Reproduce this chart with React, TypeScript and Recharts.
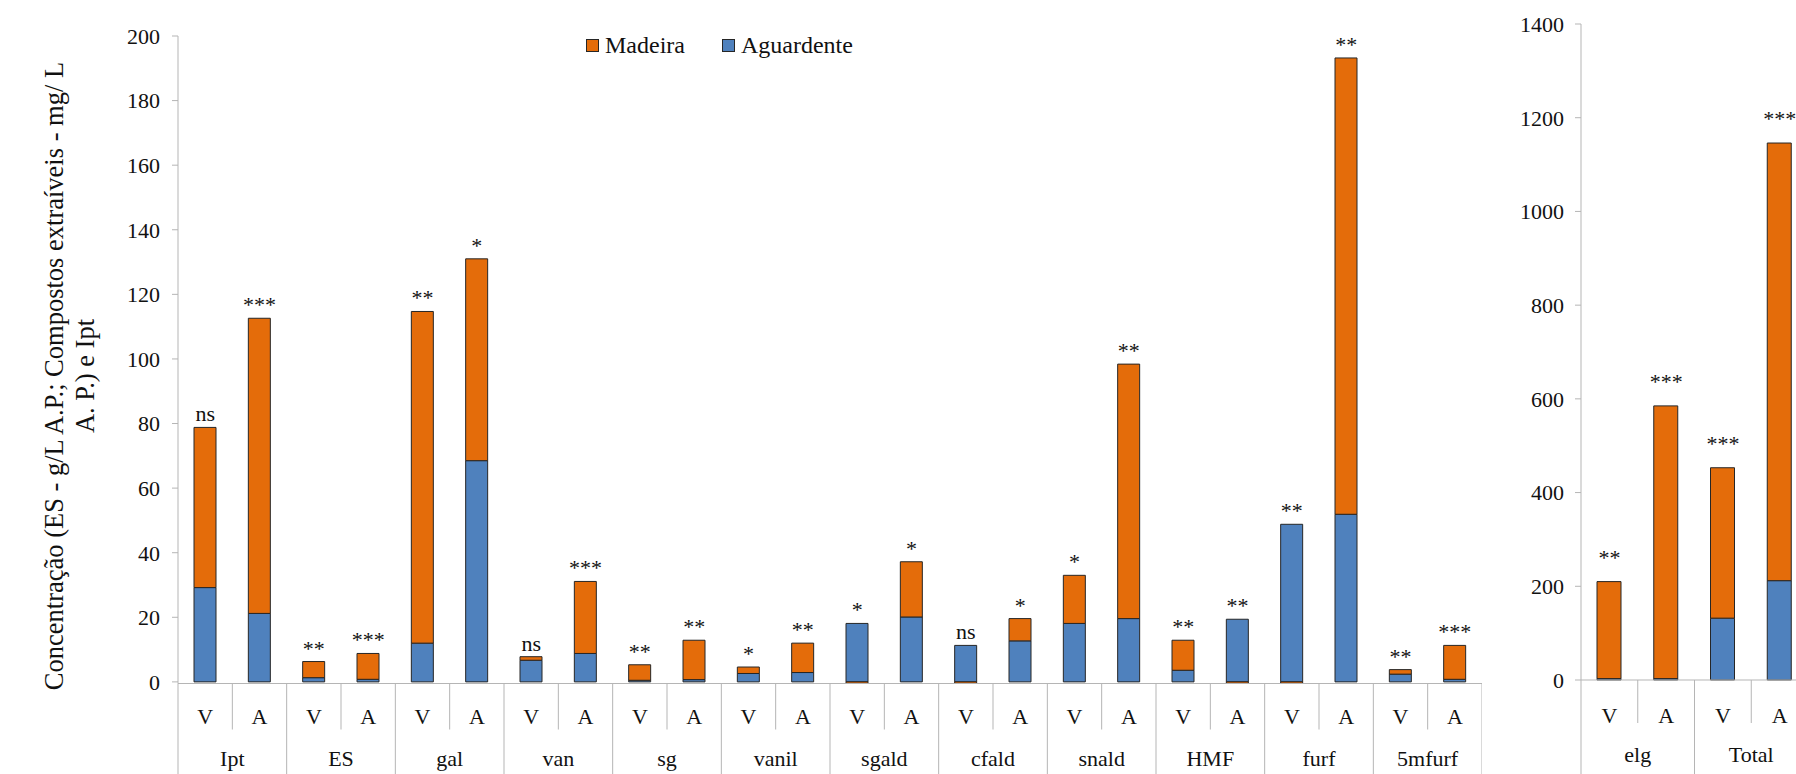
import { ComposedChart, Bar, Line, XAxis, YAxis, LabelList, Legend } from "recharts";

const serif = '"Liberation Serif", "Times New Roman", serif';
const orange = "#E46C0A";
const blue = "#4F81BD";
const edge = "#262626";
const grid = "#b5b5b5";
const ink = "#111";

// left panel: 12 compounds, each with V and A
const groups = ["Ipt", "ES", "gal", "van", "sg", "vanil", "sgald", "cfald", "snald", "HMF", "furf", "5mfurf"];
const ages = ["V", "A"];
const aguardente = [29.2, 21.2, 1.3, 0.8, 12.0, 68.5, 6.7, 8.8, 0.5, 0.7, 2.6, 2.9, 18.1, 20.1, 11.3, 12.7, 18.1, 19.6, 3.6, 19.4, 48.8, 51.9, 2.4, 0.8];
const madeira = [49.6, 91.4, 5.0, 8.0, 102.7, 62.5, 1.1, 22.3, 4.8, 12.2, 2.0, 9.1, -0.5, 17.1, -0.5, 6.9, 14.9, 78.8, 9.3, -0.5, -0.5, 141.3, 1.4, 10.5];
const signif = ["ns", "***", "**", "***", "**", "*", "ns", "***", "**", "**", "*", "**", "*", "*", "ns", "*", "*", "**", "**", "**", "**", "**", "**", "***"];
const leftTicks = [0, 20, 40, 60, 80, 100, 120, 140, 160, 180, 200];

// right panel: ellagitannins and total
const totalGroups = ["elg", "Total"];
const totalAguardente = [3, 3, 132, 212];
const totalMadeira = [207, 582, 321, 934];
const totalSignif = ["**", "***", "***", "***"];
const rightTicks = [0, 200, 400, 600, 800, 1000, 1200, 1400];

const legendOrder = ["Madeira", "Aguardente"];

function buildRows(names: string[], agu: number[], mad: number[], sig: string[]) {
  return agu.map((a, i) => ({
    key: names[Math.floor(i / 2)] + "-" + ages[i % 2],
    aguardente: a,
    madeira: mad[i],
    top: a + Math.max(mad[i], 0),
    sig: sig[i],
  }));
}

const leftRows = buildRows(groups, aguardente, madeira, signif);
const rightRows = buildRows(totalGroups, totalAguardente, totalMadeira, totalSignif);

type TickOpts = { slot: number; va: number; grp: number; short: number; long: number };

const makeTick = (names: string[], count: number, o: TickOpts) => (props: any) => {
  const { x, y, payload } = props;
  const i = payload.index;
  const isV = i % 2 === 0;
  const left = x - o.slot / 2;
  const right = x + o.slot / 2;
  return (
    <g>
      <line x1={left} x2={left} y1={y} y2={y + (isV ? o.long : o.short)} stroke={grid} />
      {i === count - 1 && <line x1={right} x2={right} y1={y} y2={y + o.long} stroke={grid} />}
      <text x={x} y={y + o.va} textAnchor="middle" fontSize={22} fill={ink} fontFamily={serif}>
        {ages[i % 2]}
      </text>
      {isV && (
        <text x={right} y={y + o.grp} textAnchor="middle" fontSize={22} fill={ink} fontFamily={serif}>
          {names[i / 2]}
        </text>
      )}
    </g>
  );
};

function YTitle() {
  return (
    <g fontFamily={serif} fontSize={26.5} fill={ink}>
      <text x={54} y={376} transform="rotate(-90 54 376)" textAnchor="middle" dominantBaseline="central">
        Concentração (ES - g/L A.P.;  Compostos extraíveis - mg/ L
      </text>
      <text x={85} y={376} transform="rotate(-90 85 376)" textAnchor="middle" dominantBaseline="central">
        A. P.) e Ipt
      </text>
    </g>
  );
}

function LegendBox({ payload }: any) {
  const items = legendOrder
    .map((name) => (payload || []).find((p: any) => p.value === name))
    .filter(Boolean);
  return (
    <div style={{ display: "flex", alignItems: "center", fontFamily: serif, fontSize: 24, color: ink, whiteSpace: "nowrap" }}>
      {items.map((it: any) => (
        <div key={it.value} style={{ display: "flex", alignItems: "center", marginRight: 37 }}>
          <span style={{ width: 11, height: 11, background: it.color, border: `1px solid ${edge}`, marginRight: 6 }} />
          <span>{it.value}</span>
        </div>
      ))}
    </div>
  );
}

export default function App() {
  const leftSlot = (1482 - 178) / leftRows.length;
  const rightSlot = (318 - 91) / rightRows.length;
  return (
    <div style={{ position: "absolute", left: 0, top: 0, width: 1796, height: 774, overflow: "hidden", background: "#fff", fontFamily: serif }}>
      <div style={{ position: "absolute", left: 0, top: 0 }}>
        <ComposedChart width={1482} height={774} data={leftRows} stackOffset="sign" margin={{ top: 36, right: 0, bottom: 0, left: 0 }}>
          <XAxis
            dataKey="key"
            height={90.5}
            interval={0}
            tickSize={0}
            tickMargin={0}
            tickLine={false}
            axisLine={{ stroke: grid }}
            tick={makeTick(groups, leftRows.length, { slot: leftSlot, va: 40, grp: 82, short: 46, long: 91 })}
          />
          <YAxis
            width={178}
            domain={[0, 200]}
            ticks={leftTicks}
            interval={0}
            tickSize={6}
            tickMargin={12}
            axisLine={{ stroke: grid }}
            tickLine={{ stroke: grid }}
            tick={{ fontSize: 22, fill: ink, fontFamily: serif }}
            label={<YTitle />}
          />
          <Legend
            layout="horizontal"
            verticalAlign="middle"
            align="center"
            content={<LegendBox />}
            wrapperStyle={{ position: "absolute", left: 586, top: 32, width: "auto" }}
          />
          <Bar dataKey="aguardente" name="Aguardente" stackId="s" fill={blue} stroke={edge} strokeWidth={1} barSize={22} isAnimationActive={false} />
          <Bar dataKey="madeira" name="Madeira" stackId="s" fill={orange} stroke={edge} strokeWidth={1} barSize={22} isAnimationActive={false} />
          <Line dataKey="top" stroke="none" dot={false} activeDot={false} legendType="none" isAnimationActive={false}>
            <LabelList dataKey="sig" position="top" offset={6} fontSize={22} fill={ink} fontFamily={serif} />
          </Line>
        </ComposedChart>
      </div>
      <div style={{ position: "absolute", left: 1490, top: 0 }}>
        <ComposedChart width={318} height={774} data={rightRows} margin={{ top: 24, right: 0, bottom: 0, left: 0 }}>
          <XAxis
            dataKey="key"
            height={94}
            interval={0}
            tickSize={0}
            tickMargin={0}
            tickLine={false}
            axisLine={{ stroke: grid }}
            tick={makeTick(totalGroups, rightRows.length, { slot: rightSlot, va: 43, grp: 82, short: 43, long: 94 })}
          />
          <YAxis
            width={91}
            domain={[0, 1400]}
            ticks={rightTicks}
            interval={0}
            tickSize={6}
            tickMargin={11}
            axisLine={{ stroke: grid }}
            tickLine={{ stroke: grid }}
            tick={{ fontSize: 22, fill: ink, fontFamily: serif }}
          />
          <Bar dataKey="aguardente" name="Aguardente" stackId="s" fill={blue} stroke={edge} strokeWidth={1} barSize={24} isAnimationActive={false} />
          <Bar dataKey="madeira" name="Madeira" stackId="s" fill={orange} stroke={edge} strokeWidth={1} barSize={24} isAnimationActive={false} />
          <Line dataKey="top" stroke="none" dot={false} activeDot={false} legendType="none" isAnimationActive={false}>
            <LabelList dataKey="sig" position="top" offset={17} fontSize={22} fill={ink} fontFamily={serif} />
          </Line>
        </ComposedChart>
      </div>
    </div>
  );
}
